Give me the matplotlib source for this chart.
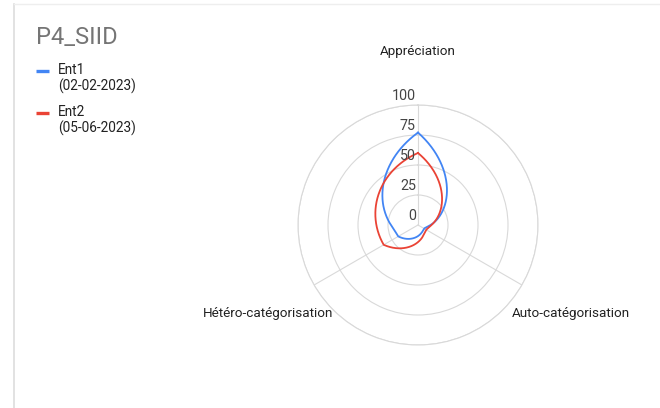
import numpy as np
import matplotlib
matplotlib.use("Agg")
import matplotlib.pyplot as plt
from matplotlib.lines import Line2D

plt.rcParams["font.family"] = ["Roboto", "DejaVu Sans"]

# ---- data ----
categories = ["Appréciation", "Auto-catégorisation", "Hétéro-catégorisation"]
series_names = ["Ent1\n(02-02-2023)", "Ent2\n(05-06-2023)"]
ent1 = [77, 6, 19]
ent2 = [60, 8, 33]
r_ticks = [0, 25, 50, 75, 100]
colors = ["#4285F4", "#EA4335"]

W, H = 660, 408
GRID = "#d9d9d9"


def smooth_outline(vals, n=200):
    # curved radar line like the sheets one: between two axes the radius
    # eases out of the smaller value and runs steeply into the larger one
    k = len(vals)
    closed = list(vals) + [vals[0]]
    u = np.linspace(0, 1, n)
    th_all, r_all = [], []
    for i in range(k):
        r0, r1 = closed[i], closed[i + 1]
        if r0 >= r1:
            r = r1 + (r0 - r1) * (1 - u) ** 2
        else:
            r = r0 + (r1 - r0) * u ** 2
        th_all.append((i + u) * 2 * np.pi / k)
        r_all.append(r)
    return np.concatenate(th_all), np.concatenate(r_all)


fig = plt.figure(figsize=(W / 100, H / 100), dpi=100)
fig.patch.set_facecolor("white")

# card edge
fig.add_artist(Line2D([14 / W, 14 / W], [0, 1 - 4 / H], color="#dddddd", lw=1.2))
fig.add_artist(Line2D([14 / W, 1], [1 - 4 / H, 1 - 4 / H], color="#eeeeee", lw=1.0))

cx, cy, rad = 418, 225, 120
ax = fig.add_axes([(cx - rad) / W, (H - cy - rad) / H, 2 * rad / W, 2 * rad / H],
                  projection="polar")
ax.set_theta_offset(np.pi / 2)
ax.set_theta_direction(-1)
ax.set_ylim(0, 100)
theta_cat = np.linspace(0, 2 * np.pi, len(categories), endpoint=False)
ax.set_xticks(theta_cat)
ax.set_xticklabels([])
ax.set_yticks(r_ticks[1:])
ax.set_yticklabels([])
ax.grid(True, color=GRID, lw=0.8)
ax.spines["polar"].set_color(GRID)
ax.spines["polar"].set_linewidth(0.8)
ax.set_facecolor("white")

for vals, col in zip([ent1, ent2], colors):
    th, r = smooth_outline(vals)
    ax.plot(th, r, color=col, lw=1.3, clip_on=False)

for v in r_ticks:
    ax.annotate(str(v), xy=(0, v), xytext=(-2, 9), textcoords="offset pixels",
                ha="right", va="center", fontsize=10.3, color="#444444")

# category labels
fig.text(418 / W, 1 - 52 / H, categories[0], ha="center", va="center", fontsize=9.7, color="#222222")
fig.text(512 / W, 1 - 314 / H, categories[1], ha="left", va="center", fontsize=9.7, color="#222222")
fig.text(333 / W, 1 - 314 / H, categories[2], ha="right", va="center", fontsize=9.7, color="#222222")

# title
fig.text(36 / W, 1 - 37 / H, "P4_SIID", ha="left", va="center", fontsize=17, color="#757575")

# legend
for i, (name, col) in enumerate(zip(series_names, colors)):
    y = 70.5 + i * 42.5
    fig.add_artist(Line2D([36 / W, 49 / W], [1 - y / H] * 2, color=col, lw=2.4, solid_capstyle="butt"))
    fig.text(58 / W, 1 - (y - 7.5) / H, name, ha="left", va="top", fontsize=9.8,
             color="#222222", linespacing=1.1)

fig.savefig("out.png", dpi=100, facecolor="white")
